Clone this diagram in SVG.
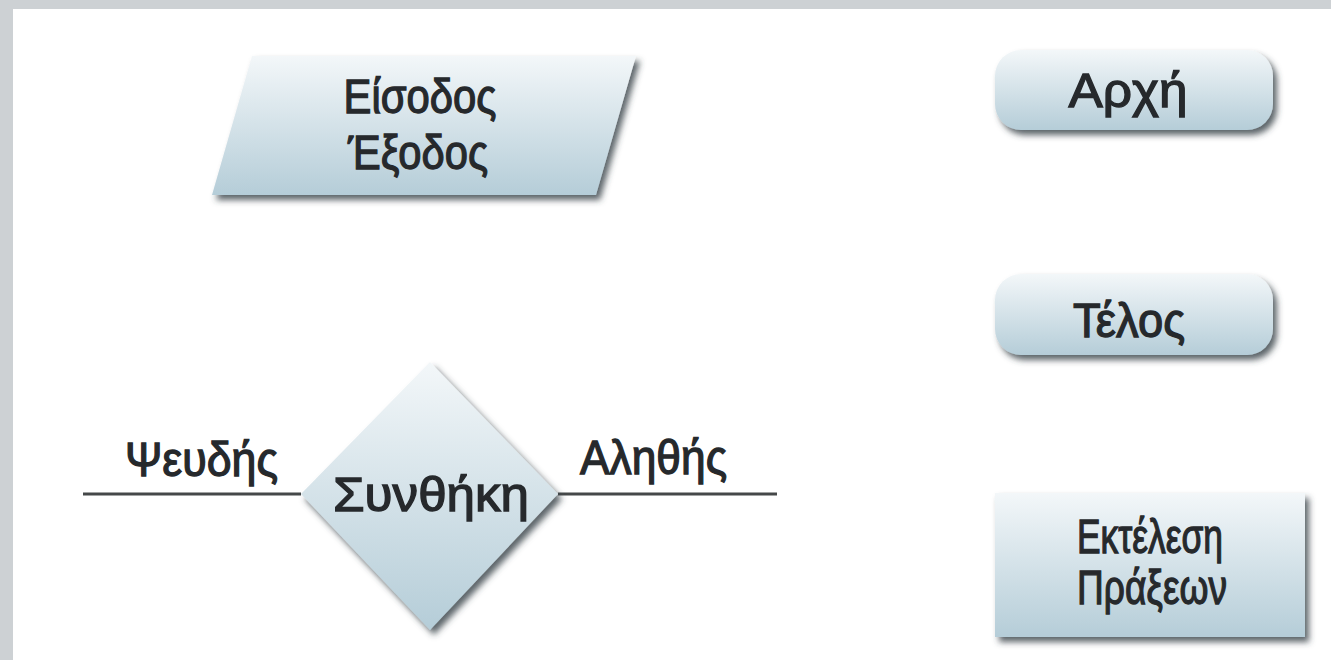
<svg xmlns="http://www.w3.org/2000/svg" width="1331" height="660" viewBox="0 0 1331 660">
<defs>
<linearGradient id="g" x1="0" y1="0" x2="0" y2="1">
<stop offset="0" stop-color="#f3f7f9"/>
<stop offset="1" stop-color="#b5cdd8"/>
</linearGradient>
<filter id="sh" x="-10%" y="-10%" width="125%" height="130%">
<feDropShadow dx="4" dy="5" stdDeviation="3" flood-color="#353f44" flood-opacity="0.8"/>
</filter>
</defs>
<style>
.shape{fill:url(#g);filter:url(#sh);}
.t{font-family:"Liberation Sans",Arial,sans-serif;font-size:48px;fill:#26292c;stroke:#26292c;stroke-width:1.3px;}
.m{text-anchor:middle;}
.ln{stroke:#454849;stroke-width:3;fill:none;}
</style>
<rect x="0" y="0" width="1331" height="660" fill="#cdd1d4"/>
<rect x="13" y="9" width="1318" height="651" fill="#ffffff"/>

<g id="connectors">
<line class="ln" x1="83" y1="494" x2="301" y2="494"/>
<line class="ln" x1="558" y1="494" x2="777" y2="494"/>
</g>

<g id="io">
<polygon class="shape" points="252,56 636,56 596,195 212,195"/>
<text class="t m" x="420" y="113" textLength="153" lengthAdjust="spacingAndGlyphs">Είσοδος</text>
<text class="t m" x="418" y="169" textLength="140" lengthAdjust="spacingAndGlyphs">Έξοδος</text>
</g>

<g id="start">
<rect class="shape" x="995" y="50" width="278" height="80" rx="26" ry="26"/>
<text class="t m" x="1128" y="107" textLength="119" lengthAdjust="spacingAndGlyphs">Αρχή</text>
</g>

<g id="end">
<rect class="shape" x="995" y="274" width="278" height="81" rx="26" ry="26"/>
<text class="t m" x="1129" y="337" textLength="112" lengthAdjust="spacingAndGlyphs">Τέλος</text>
</g>

<g id="decision">
<polygon class="shape" points="430,362 558,494 430,630 301,494"/>
<text class="t m" x="431" y="511" textLength="196" lengthAdjust="spacingAndGlyphs">Συνθήκη</text>
</g>

<g id="label-false">
<text class="t" x="125" y="476" textLength="153" lengthAdjust="spacingAndGlyphs">Ψευδής</text>
</g>
<g id="label-true">
<text class="t" x="580" y="474" textLength="147" lengthAdjust="spacingAndGlyphs">Αληθής</text>
</g>

<g id="process">
<rect class="shape" x="995" y="493" width="310" height="144"/>
<text class="t" x="1077" y="553" textLength="146" lengthAdjust="spacingAndGlyphs">Εκτέλεση</text>
<text class="t" x="1077" y="604" textLength="150" lengthAdjust="spacingAndGlyphs">Πράξεων</text>
</g>
</svg>
